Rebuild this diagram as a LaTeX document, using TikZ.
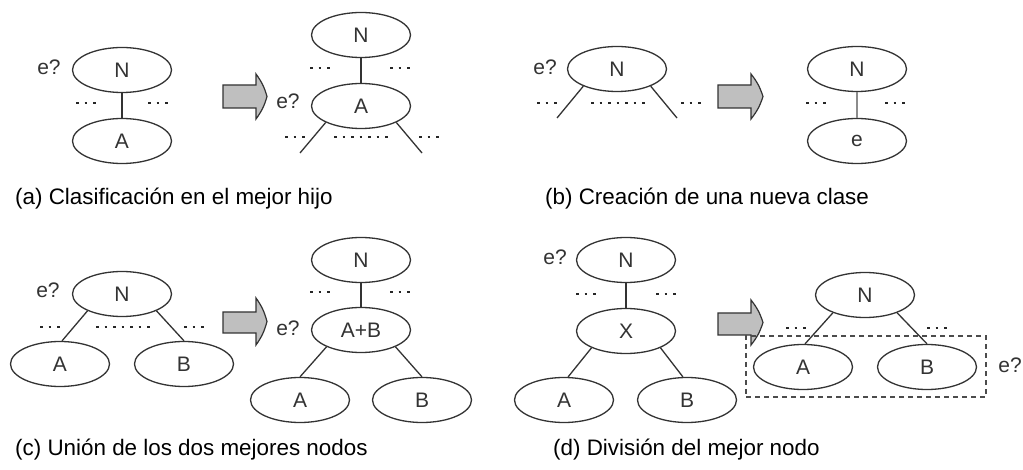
\documentclass[tikz,border=0pt]{standalone}
\usepackage{fontspec}
\setmainfont{Liberation Sans}
\usetikzlibrary{shapes.geometric}
\begin{document}
\begin{tikzpicture}[x=1pt,y=-1pt,
  tnode/.style={ellipse,draw=black!80,line width=1.3pt,minimum width=99pt,minimum height=45pt,inner sep=0pt,text=black!80,font=\fontsize{21}{24}\selectfont},
  lbl/.style={text=black!80,font=\fontsize{21}{24}\selectfont,inner sep=0pt},
  captxt/.style={anchor=base west,inner sep=0pt,font=\fontsize{22.4}{26}\selectfont},
  conn/.style={draw=black!80,line width=1.3pt},
  dotline/.style={draw=black!85,line width=2.5pt,dash pattern=on 2.5pt off 6pt},
  bigarrow/.style={fill=black!25,draw=black!80,line width=1.2pt,line join=miter}]
\useasboundingbox (0,0) rectangle (1023,470);
\fill[white] (0,0) rectangle (1023,470);
% helper for big arrows: x0, top, bottom, body top, body bottom, head x, tip x
\newcommand{\bigarr}[7]{\draw[bigarrow] (#1,#4) -- (#6,#4) -- (#6,#2) to[bend left=10] (#7,{(#2+#3)/2}) to[bend left=10] (#6,#3) -- (#6,#5) -- (#1,#5) -- cycle;}

% ---------- (a) ----------
\node[tnode] (aN) at (122,70) {N};
\node[tnode] (aA) at (122,141) {A};
\node[lbl] (aE) at (49,67) {e?};
\draw[conn] (aN.south) -- (aA.north);
\draw[dotline] (76,103) -- ++(19.5,0);
\draw[dotline] (148,103) -- ++(19.5,0);
\bigarr{223}{74}{119}{85}{108}{256}{267}
\node[lbl] (aE2) at (288,101) {e?};
\node[tnode] (aN2) at (361,35) {N};
\node[tnode] (aA2) at (361,106) {A};
\draw[conn] (aN2.south) -- (aA2.north);
\draw[dotline] (310,68) -- ++(19.5,0);
\draw[dotline] (390,68) -- ++(19.5,0);
\coordinate (aL) at (300,153);
\coordinate (aR) at (422,153);
\draw[conn] (aA2.205) -- (aL);
\draw[conn] (aA2.335) -- (aR);
\draw[dotline] (285,137) -- ++(19.5,0);
\draw[dotline] (334,137) -- ++(53.5,0);
\draw[dotline] (419,137) -- ++(19.5,0);
\node[captxt] (capa) at (15,205) {(a) Clasificación en el mejor hijo};

% ---------- (b) ----------
\node[tnode] (bN) at (617,69) {N};
\node[lbl] (bE) at (545,67) {e?};
\coordinate (bL) at (557,118);
\coordinate (bR) at (677,118);
\draw[conn] (bN.207) -- (bL);
\draw[conn] (bN.333) -- (bR);
\draw[dotline] (537,103) -- ++(19.5,0);
\draw[dotline] (591,103) -- ++(53.5,0);
\draw[dotline] (681,103) -- ++(19.5,0);
\bigarr{718}{74}{119}{85}{108}{751}{763}
\node[tnode] (bN2) at (857,69) {N};
\node[tnode] (be) at (857,141) {e};
\draw[draw=black!45,line width=2.2pt] (bN2.south) -- (be.north);
\draw[dotline] (806,103) -- ++(19.5,0);
\draw[dotline] (885,103) -- ++(19.5,0);
\node[captxt] (capb) at (545,205) {(b) Creación de una nueva clase};

% ---------- (c) ----------
\node[tnode] (cN) at (122,294) {N};
\node[lbl] (cE) at (48,290) {e?};
\node[tnode] (cA) at (60,364) {A};
\node[tnode] (cB) at (184,364) {B};
\draw[conn] (cN.206) -- (cA.85);
\draw[conn] (cN.334) -- (cB.north);
\draw[dotline] (40,327) -- ++(19.5,0);
\draw[dotline] (96,327) -- ++(53.5,0);
\draw[dotline] (184,327) -- ++(19.5,0);
\bigarr{223}{298}{345}{312}{333}{256}{267}
\node[lbl] (cE2) at (288,328) {e?};
\node[tnode] (cN2) at (361,260) {N};
\node[tnode] (cAB) at (361,330) {A+B};
\node[tnode] (cA2) at (300,400) {A};
\node[tnode] (cB2) at (422,400) {B};
\draw[conn] (cN2.south) -- (cAB.north);
\draw[conn] (cAB.206) -- (cA2.north);
\draw[conn] (cAB.334) -- (cB2.north);
\draw[dotline] (310,292) -- ++(19.5,0);
\draw[dotline] (390,292) -- ++(19.5,0);
\node[captxt] (capc) at (15,455) {(c) Unión de los dos mejores nodos};

% ---------- (d) ----------
\node[tnode] (dN) at (626,260) {N};
\node[lbl] (dE) at (555,257) {e?};
\node[tnode] (dX) at (626,331) {X};
\node[tnode] (dA) at (564,400) {A};
\node[tnode] (dB) at (687,400) {B};
\draw[conn] (dN.south) -- (dX.north);
\draw[conn] (dX.206) -- (dA.80);
\draw[conn] (dX.334) -- (dB.100);
\draw[dotline] (576,294) -- ++(19.5,0);
\draw[dotline] (656,294) -- ++(19.5,0);
\bigarr{718}{300}{345}{313}{335}{751}{763}
\node[tnode] (dN2) at (865,295) {N};
\node[tnode] (dA2) at (803,367) {A};
\node[tnode] (dB2) at (927,367) {B};
\draw[conn] (dN2.209) -- (dA2.85);
\draw[conn] (dN2.331) -- (dB2.north);
\draw[dotline] (786,328) -- ++(19.5,0);
\draw[dotline] (927,328) -- ++(19.5,0);
\node[draw=black!70,line width=1.5pt,dash pattern=on 5pt off 4pt,minimum width=240pt,minimum height=61pt,inner sep=0pt] (dBox) at (866,366.5) {};
\node[lbl] (dE2) at (1010,365) {e?};
\node[captxt] (capd) at (553,455) {(d) División del mejor nodo};
\end{tikzpicture}
\end{document}
